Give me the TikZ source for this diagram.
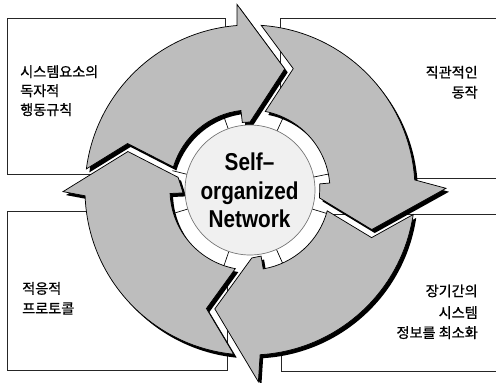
\documentclass[tikz,border=0pt]{standalone}
\usepackage{fontspec}
\newfontfamily\krfont[FakeBold=0.9]{Noto Sans CJK KR}
\newfontfamily\enfont[FakeStretch=0.85]{Liberation Sans}
\usetikzlibrary{calc,intersections}
% point given by compass angle (clockwise from north) and radius around C
\newcommand\pc[3]{\coordinate (#1) at ($(C)+({90-(#2)}:{#3})$);}
% notch of arrow #2 built from the head of arrow #1 (offset by a gap)
\newcommand\mktail[2]{%
  \coordinate (A1#2) at ($(A#1)!5.25pt!90:(B#1)$);
  \coordinate (B1#2) at ($(B#1)!5.25pt!-90:(A#1)$);
  \coordinate (B2#2) at ($(B#1)!5.25pt!90:(D#1)$);
  \coordinate (D2#2) at ($(D#1)!5.25pt!-90:(B#1)$);
  \coordinate (V#2) at (intersection of A1#2--B1#2 and B2#2--D2#2);
  \path[name path=L1#2] (A1#2) -- (B1#2);
  \path[name path=L2#2] (B2#2) -- ($(B2#2)!1.2!(D2#2)$);
  \path[name intersections={of=L1#2 and OC, by=T1#2}];
  \path[name intersections={of=L2#2 and IC, by=T2#2}];
}
\newcommand\arrowpath[3]{let \p1=($(T1#1)-(C)$), \p2=($(T2#1)-(C)$),
  \n1={atan2(\y1,\x1)}, \n2={atan2(\y2,\x2)} in
  (T1#1) arc[start angle=\n1, end angle={90-(#2)}, radius=165]
  -- (A#1) -- (B#1) -- (D#1) -- (E#1) -- (F#1)
  arc[start angle={90-(#3)}, end angle=\n2, radius=80] -- (V#1) -- cycle}
\begin{document}
\begin{tikzpicture}[x=0.75pt,y=0.75pt,
  boxline/.style={draw=black!85,line width=0.6pt},
  arrowfill/.style={fill=black!26,draw=black,line width=0.55pt},
  ringline/.style={draw=black,line width=0.5pt},
  krtext/.style={font=\krfont\fontsize{10.6}{12}\selectfont,inner sep=0pt},
  entext/.style={font=\enfont\bfseries\fontsize{18.3}{20}\selectfont,inner sep=0pt,anchor=base}]
\useasboundingbox (0,0) rectangle (496,382);
\fill[white] (0,0) rectangle (496,382);
\coordinate (C) at (250,192);

% boxes
\draw[boxline] (7,364) rectangle (225,208);
\draw[boxline] (496,364) -- (280,364) -- (280,204) -- (496,204);
\draw[boxline] (7,171) rectangle (227,12);
\draw[boxline] (496,168) -- (281,168) -- (281,11) -- (496,11);

% white ring with radial marks
\fill[white] (C) circle[radius=80];
\foreach \a in {-19.6,24.6,78.5,107,156,199,253,284}
  \draw[ringline] ($(C)+({90-\a}:65)$) -- ($(C)+({90-\a}:80)$);

\path[name path=OC] (C) circle[radius=165];
\path[name path=IC] (C) circle[radius=80];

% heads: a = top-left, b = top-right, c = bottom-right, d = bottom-left
\pc{Aa}{-4}{186}   \pc{Ba}{16}{126}    \pc{Da}{0}{68}     \pc{Ea}{-6.5}{68}  \pc{Fa}{-6.5}{80}
\pc{Ab}{89.5}{196} \pc{Bb}{108}{128}   \pc{Db}{96.5}{70}  \pc{Eb}{85}{70}    \pc{Fb}{85}{80}
\pc{Ac}{177.5}{192}\pc{Bc}{196.5}{124} \pc{Dc}{178.5}{68} \pc{Ec}{170.5}{67} \pc{Fc}{170.5}{80}
\pc{Ad}{269.5}{187}\pc{Bd}{287.5}{128} \pc{Dd}{280}{73}   \pc{Ed}{267.5}{67} \pc{Fd}{267.5}{80}

\mktail{d}{a}
\mktail{a}{b}
\mktail{b}{c}
\mktail{c}{d}

% shadows
\begin{scope}[transform canvas={xshift=2.25pt,yshift=-2.6pt}]
  \fill[black] \arrowpath{a}{-4.5}{-6.5};
  \fill[black] \arrowpath{b}{86.5}{85};
  \fill[black] \arrowpath{c}{176.5}{170.5};
  \fill[black] \arrowpath{d}{268}{267.5};
\end{scope}
% arrows
\path[arrowfill] \arrowpath{a}{-4.5}{-6.5};
\path[arrowfill] \arrowpath{b}{86.5}{85};
\path[arrowfill] \arrowpath{c}{176.5}{170.5};
\path[arrowfill] \arrowpath{d}{268}{267.5};

% centre
\draw[fill=black!6,draw=black!55,line width=0.5pt] (C) circle[radius=65];
\node[entext] (s1) at (249.5,211.3) {Self–};
\node[entext] (s2) at (249.5,182) {organized};
\node[entext] (s3) at (249.5,154) {Network};

% box texts
\node[krtext,anchor=base west] (tl1) at (20,305) {시스템요소의};
\node[krtext,anchor=base west] (tl2) at (20,286) {독자적};
\node[krtext,anchor=base west] (tl3) at (20,267) {행동규칙};
\node[krtext,anchor=base east] (tr1) at (478,304.4) {직관적인};
\node[krtext,anchor=base east] (tr2) at (478,284.4) {동작};
\node[krtext,anchor=base west] (bl1) at (22,88.3) {적응적};
\node[krtext,anchor=base west] (bl2) at (22,68.3) {프로토콜};
\node[krtext,anchor=base east] (br1) at (478,85.8) {장기간의};
\node[krtext,anchor=base east] (br2) at (478,64.1) {시스템};
\node[krtext,anchor=base east] (br3) at (478,44.1) {정보를 최소화};
\end{tikzpicture}
\end{document}
